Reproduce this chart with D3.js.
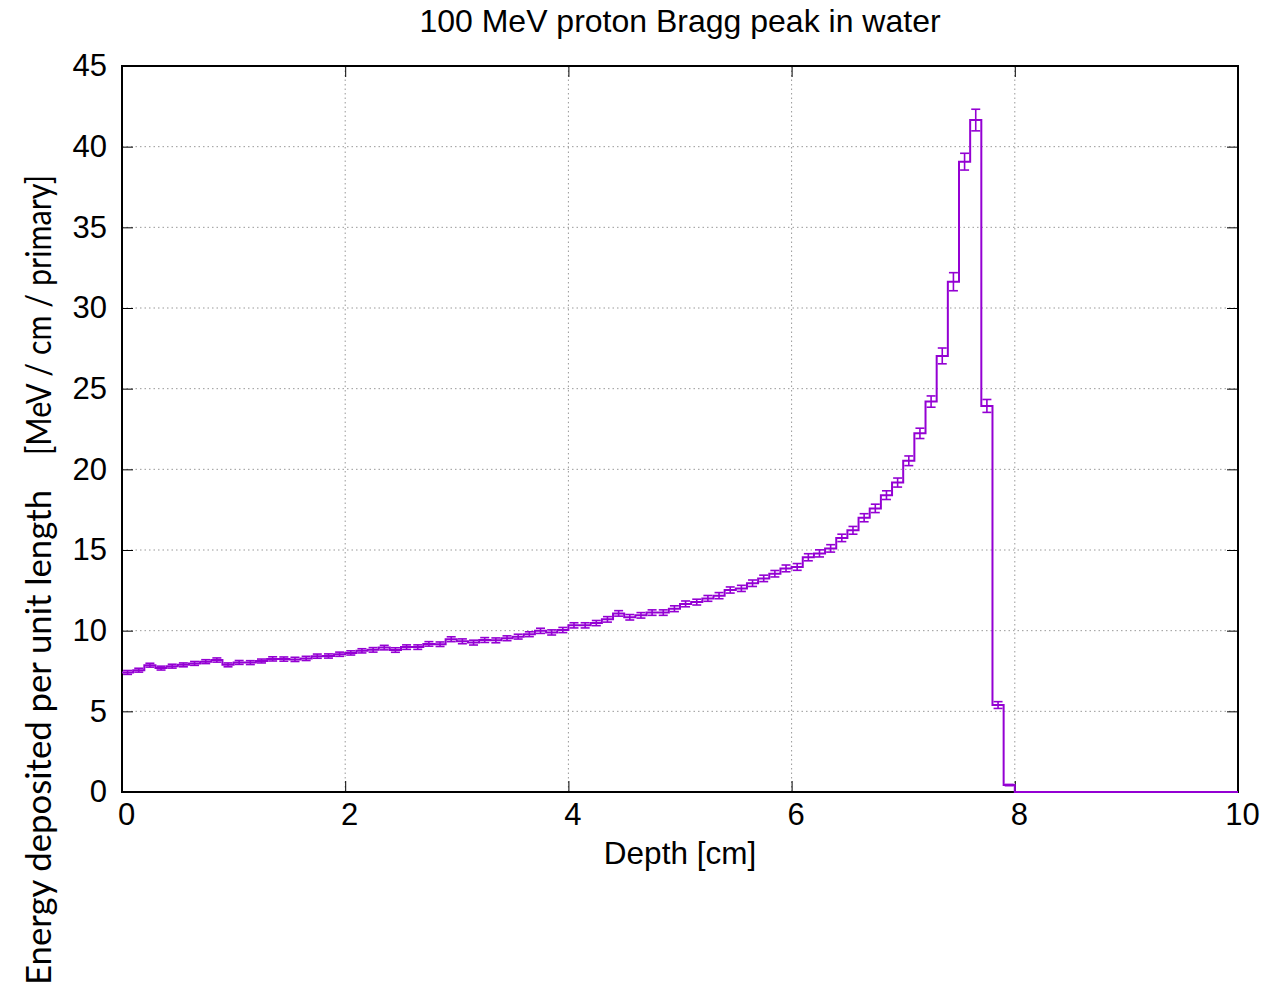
<!DOCTYPE html>
<html>
<head>
<meta charset="utf-8">
<script src="https://cdn.jsdelivr.net/npm/d3@7"></script>
<style>
    body { margin: 0; background: #fff; }
    svg { display: block; }
</style>
</head>
<body>
<svg id="chart" width="1281" height="984"></svg>
<script>
// bins of 0.1 cm from 0 to 10 cm
var binWidth = 0.1;
var energy = [
    7.41, 7.55, 7.86, 7.68, 7.80, 7.88, 7.97, 8.08, 8.18, 7.88,
    8.03, 8.02, 8.12, 8.25, 8.24, 8.22, 8.28, 8.42, 8.43, 8.54,
    8.62, 8.75, 8.81, 8.95, 8.80, 8.98, 8.98, 9.18, 9.16, 9.47,
    9.34, 9.26, 9.42, 9.40, 9.53, 9.63, 9.78, 9.99, 9.89, 10.04,
    10.33, 10.33, 10.47, 10.70, 11.07, 10.83, 10.95, 11.12, 11.12, 11.36,
    11.66, 11.77, 12.00, 12.17, 12.52, 12.62, 12.94, 13.24, 13.53, 13.86,
    13.95, 14.55, 14.79, 15.10, 15.75, 16.22, 17.00, 17.58, 18.40, 19.18,
    20.53, 22.23, 24.20, 27.03, 31.63, 39.07, 41.65, 23.93, 5.39, 0.43,
    0, 0, 0, 0, 0, 0, 0, 0, 0, 0,
    0, 0, 0, 0, 0, 0, 0, 0, 0, 0
];
var energyErr = [
    0.12, 0.12, 0.12, 0.12, 0.12, 0.12, 0.12, 0.12, 0.13, 0.12,
    0.12, 0.12, 0.12, 0.13, 0.13, 0.13, 0.13, 0.13, 0.13, 0.13,
    0.13, 0.13, 0.14, 0.14, 0.14, 0.14, 0.14, 0.14, 0.14, 0.15,
    0.15, 0.15, 0.15, 0.15, 0.15, 0.15, 0.15, 0.16, 0.16, 0.16,
    0.16, 0.16, 0.16, 0.17, 0.17, 0.17, 0.17, 0.17, 0.17, 0.18,
    0.18, 0.18, 0.18, 0.19, 0.19, 0.19, 0.20, 0.20, 0.20, 0.21,
    0.21, 0.22, 0.22, 0.23, 0.23, 0.24, 0.25, 0.26, 0.27, 0.28,
    0.30, 0.32, 0.35, 0.49, 0.56, 0.52, 0.67, 0.40, 0.21, 0.04,
    0, 0, 0, 0, 0, 0, 0, 0, 0, 0,
    0, 0, 0, 0, 0, 0, 0, 0, 0, 0
];
var xTicks = [0, 2, 4, 6, 8, 10];
var yTicks = [0, 5, 10, 15, 20, 25, 30, 35, 40, 45];

var titleText = "100 MeV proton Bragg peak in water";
var xLabelText = "Depth [cm]";
var yLabelParts = ["Energy deposited per unit length", "[MeV / cm / primary]"];

var lineColor = "#9400d3";
var tickFont = "'Liberation Sans', Arial, sans-serif";

var margin = { left: 122, top: 66, right: 43, bottom: 192 };
var svg = d3.select("#chart");
var svgWidth = +svg.attr("width");
var svgHeight = +svg.attr("height");
var w = svgWidth - margin.left - margin.right;
var h = svgHeight - margin.top - margin.bottom;

var x = d3.scaleLinear().domain([0, 10]).range([0, w]);
var y = d3.scaleLinear().domain([0, 45]).range([h, 0]);

var g = svg.append("g").attr("transform", "translate(" + margin.left + "," + margin.top + ")");

// grid (dotted, gnuplot style)
var grid = g.append("g").attr("class", "grid");
grid.selectAll("line.gx")
    .data(xTicks.filter(function(d) { return d > 0 && d < 10; }))
    .enter().append("line")
    .attr("class", "gx")
    .attr("x1", function(d) { return x(d); })
    .attr("x2", function(d) { return x(d); })
    .attr("y1", 0).attr("y2", h);
grid.selectAll("line.gy")
    .data(yTicks.filter(function(d) { return d > 0 && d < 45; }))
    .enter().append("line")
    .attr("class", "gy")
    .attr("x1", 0).attr("x2", w)
    .attr("y1", function(d) { return y(d); })
    .attr("y2", function(d) { return y(d); });
grid.selectAll("line")
    .attr("stroke", "#999")
    .attr("stroke-width", 1)
    .attr("stroke-dasharray", "1.5,3");

// axes : ticks inside, mirrored on top / right
var tickLen = 11;
var axisBottom = d3.axisBottom(x).tickValues(xTicks).tickSize(-tickLen).tickPadding(11).tickFormat(d3.format("d"));
var axisTop = d3.axisTop(x).tickValues(xTicks).tickSize(-tickLen).tickFormat("");
var axisLeft = d3.axisLeft(y).tickValues(yTicks).tickSize(-tickLen).tickPadding(15).tickFormat(d3.format("d"));
var axisRight = d3.axisRight(y).tickValues(yTicks).tickSize(-tickLen).tickFormat("");

function styleAxis(sel) {
    sel.select(".domain").remove();
    sel.selectAll(".tick line").attr("stroke", "#000").attr("stroke-width", 1);
    sel.selectAll(".tick text")
        .attr("fill", "#000")
        .style("font-family", tickFont)
        .style("font-size", "31px");
}

g.append("g").attr("transform", "translate(0," + h + ")").call(axisBottom).call(styleAxis)
    .selectAll(".tick text").attr("dx", 4);
g.append("g").call(axisTop).call(styleAxis);
g.append("g").call(axisLeft).call(styleAxis);
g.append("g").attr("transform", "translate(" + w + ",0)").call(axisRight).call(styleAxis);

// border
g.append("rect")
    .attr("x", 0).attr("y", 0)
    .attr("width", w).attr("height", h)
    .attr("fill", "none")
    .attr("stroke", "#000")
    .attr("stroke-width", 2);

// histogram steps
var steps = energy.map(function(v, i) { return { x: i * binWidth, v: v }; });
steps.push({ x: energy.length * binWidth, v: energy[energy.length - 1] });

var stepLine = d3.line()
    .x(function(d) { return x(d.x); })
    .y(function(d) { return y(d.v); })
    .curve(d3.curveStepAfter);

var plot = g.append("g").attr("class", "plot");
plot.append("path")
    .datum(steps)
    .attr("d", stepLine)
    .attr("fill", "none")
    .attr("stroke", lineColor)
    .attr("stroke-width", 2)
    .attr("stroke-linejoin", "miter");

// error bars at bin centers
var capHalf = 4.5;
var bars = energy.map(function(v, i) {
    return { c: (i + 0.5) * binWidth, v: v, e: energyErr[i] };
}).filter(function(d) { return d.e > 0; });

var eb = plot.selectAll("g.err").data(bars).enter().append("g").attr("class", "err");
eb.append("line")
    .attr("x1", function(d) { return x(d.c); })
    .attr("x2", function(d) { return x(d.c); })
    .attr("y1", function(d) { return y(d.v - d.e); })
    .attr("y2", function(d) { return y(d.v + d.e); });
eb.append("line")
    .attr("x1", function(d) { return x(d.c) - capHalf; })
    .attr("x2", function(d) { return x(d.c) + capHalf; })
    .attr("y1", function(d) { return y(d.v + d.e); })
    .attr("y2", function(d) { return y(d.v + d.e); });
eb.append("line")
    .attr("x1", function(d) { return x(d.c) - capHalf; })
    .attr("x2", function(d) { return x(d.c) + capHalf; })
    .attr("y1", function(d) { return y(d.v - d.e); })
    .attr("y2", function(d) { return y(d.v - d.e); });
eb.selectAll("line")
    .attr("stroke", lineColor)
    .attr("stroke-width", 1.6);

// titles
svg.append("text")
    .attr("x", margin.left + w / 2)
    .attr("y", 32)
    .attr("text-anchor", "middle")
    .style("font-family", tickFont)
    .style("font-size", "32px")
    .text(titleText);

svg.append("text")
    .attr("x", margin.left + w / 2)
    .attr("y", 864)
    .attr("text-anchor", "middle")
    .style("font-family", tickFont)
    .style("font-size", "31.5px")
    .text(xLabelText);

// y label: two parts separated by a wide gap, widths
var yLabel = svg.append("text")
    .attr("transform", "translate(51,985) rotate(-90)")
    .attr("text-anchor", "start")
    .style("font-family", "Lato, 'Open Sans', sans-serif")
    .style("font-size", "34px");
yLabel.append("tspan")
    .attr("textLength", 495)
    .attr("lengthAdjust", "spacingAndGlyphs")
    .text(yLabelParts[0]);
yLabel.append("tspan")
    .attr("dx", 35)
    .attr("textLength", 280)
    .attr("lengthAdjust", "spacingAndGlyphs")
    .text(yLabelParts[1]);
</script>
</body>
</html>
